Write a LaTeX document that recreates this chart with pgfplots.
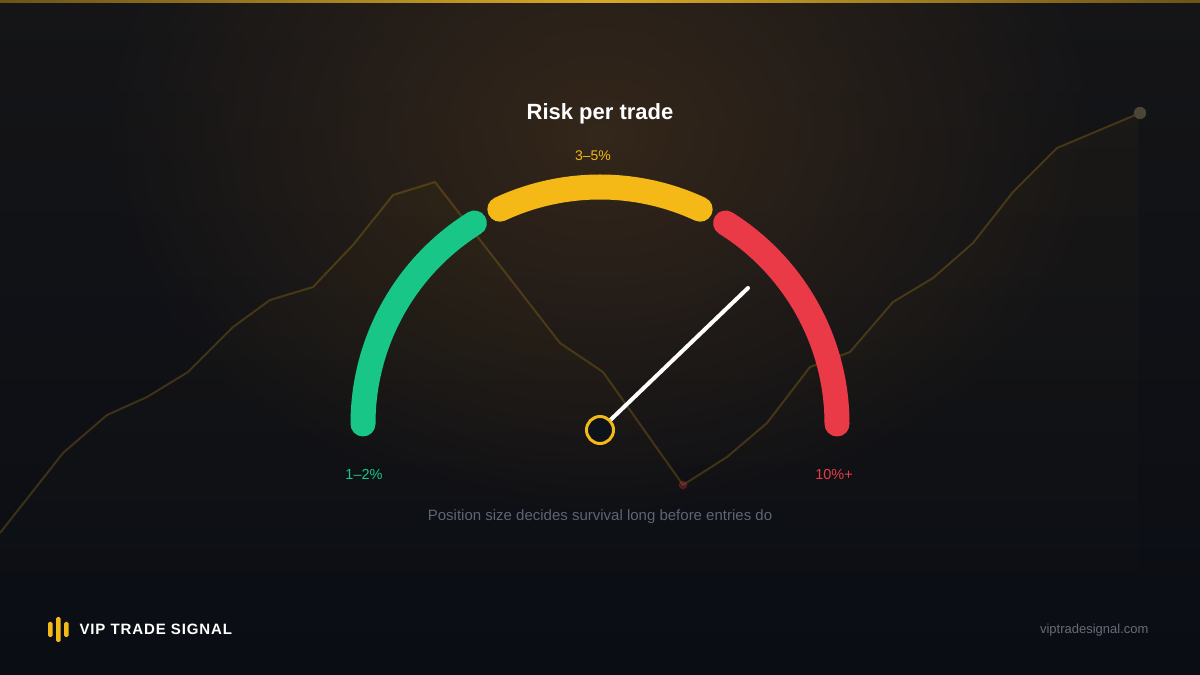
\documentclass[border=0pt]{standalone}
\usepackage{pgfplots}
\pgfplotsset{compat=1.18}
\usepackage{fontspec}
\setmainfont{Liberation Sans}
\usetikzlibrary{fadings}

\tikzfading[name=glowfade, inner color=transparent!0, outer color=transparent!100]
\tikzfading[name=fadedown, top color=transparent!0, bottom color=transparent!100]

\definecolor{bgtop}{HTML}{151517}
\definecolor{bgbot}{HTML}{0A0D14}
\definecolor{glow}{HTML}{3A2A1B}
\definecolor{gGreen}{HTML}{18C787}
\definecolor{gYellow}{HTML}{F4B916}
\definecolor{gRed}{HTML}{EA3A48}
\definecolor{subtxt}{HTML}{5D6473}
\definecolor{urltxt}{HTML}{666C78}
\definecolor{pivot}{HTML}{0E131B}
\definecolor{enddot}{HTML}{4A4535}
\definecolor{barDark}{HTML}{6B5418}
\definecolor{barGold}{HTML}{D8A928}

% background price line (pixel x, y measured upward)
\pgfplotstableread{
x y
0 142
63 222
107 260
147 278
188 303
233 348
270 375
313 388
353 430
393 480
435 493
560 332
603 303
683 190
727 218
767 252
810 308
850 323
893 373
933 397
973 432
1013 483
1057 527
1140 562
}\priceline

\begin{document}
\begin{tikzpicture}
\begin{axis}[
  x=1pt, y=1pt,
  xmin=0, xmax=1200, ymin=0, ymax=675,
  scale only axis, hide axis,
  at={(0,0)}, anchor=south west,
]

%%%%%%%%%%%%%%%%%%%%%%%%%%% Background %%%%%%%%%%%%%%%%%%%%%%%%%%%
\shade[top color=bgtop, bottom color=bgbot] (axis cs:0,0) rectangle (axis cs:1200,675);
\fill[glow, path fading=glowfade, fill opacity=0.85] (axis cs:600,540) ellipse [x radius=500pt, y radius=390pt];
\shade[left color=barDark, right color=barDark, middle color=barGold] (axis cs:0,672) rectangle (axis cs:1200,675);

%%%%%%%%%%%%%%%%%%%%%%%%%%% Price line %%%%%%%%%%%%%%%%%%%%%%%%%%%
\addplot[draw=none, fill=gYellow, fill opacity=0.03, path fading=fadedown] table {\priceline} \closedcycle;
\addplot[draw=gYellow, draw opacity=0.2, line width=2pt, line join=round, no marks] table {\priceline};
\addplot[only marks, mark=*, mark size=6pt, color=enddot] coordinates {(1140,562)};
\addplot[only marks, mark=*, mark size=4pt, color=gRed, opacity=0.25] coordinates {(683,190)};

%%%%%%%%%%%%%%%%%%%%%%%%%%% Gauge %%%%%%%%%%%%%%%%%%%%%%%%%%%
\draw[gGreen, line width=25pt, line cap=round] (axis cs:600,251) ++(180:237pt) arc[start angle=180, end angle=122, radius=237pt];
\draw[gYellow, line width=25pt, line cap=round] (axis cs:600,251) ++(115:237pt) arc[start angle=115, end angle=65, radius=237pt];
\draw[gRed, line width=25pt, line cap=round] (axis cs:600,251) ++(58:237pt) arc[start angle=58, end angle=0, radius=237pt];

% needle
\addplot[white, line width=4pt, line cap=round, no marks] coordinates {(600,245) (748,387)};
\addplot[only marks, mark=*, mark size=13.5pt, mark options={draw=gYellow, fill=pivot, line width=3pt}] coordinates {(600,245)};

%%%%%%%%%%%%%%%%%%%%%%%%%%% Text %%%%%%%%%%%%%%%%%%%%%%%%%%%
\node[anchor=base, text=white, font=\bfseries\fontsize{22}{26}\selectfont] at (axis cs:600,555) {Risk per trade};
\node[anchor=base, text=gYellow, font=\fontsize{14}{17}\selectfont] at (axis cs:593,514) {3–5\%};
\node[anchor=base, text=gGreen, font=\fontsize{14.5}{17}\selectfont] at (axis cs:364,195) {1–2\%};
\node[anchor=base, text=gRed, font=\fontsize{14.5}{17}\selectfont] at (axis cs:834,195) {10\%+};
\node[anchor=base, text=subtxt, font=\fontsize{15}{18}\selectfont] at (axis cs:600,154) {Position size decides survival long before entries do};

% footer
\fill[gYellow, rounded corners=1.5pt] (axis cs:48,38) rectangle (axis cs:52.5,53);
\fill[gYellow, rounded corners=1.5pt] (axis cs:56,33) rectangle (axis cs:60.5,58);
\fill[gYellow, rounded corners=1.5pt] (axis cs:64,38) rectangle (axis cs:68.5,53);
\node[anchor=base west, text=white, font=\bfseries\fontsize{15}{18}\selectfont\addfontfeature{LetterSpace=6}] at (axis cs:76,40) {VIP TRADE SIGNAL};
\node[anchor=base east, text=urltxt, font=\fontsize{13}{16}\selectfont] at (axis cs:1152,41) {viptradesignal.com};

\end{axis}
\pgfresetboundingbox
\path (0,0) rectangle (1200pt,675pt);
\end{tikzpicture}
\end{document}
